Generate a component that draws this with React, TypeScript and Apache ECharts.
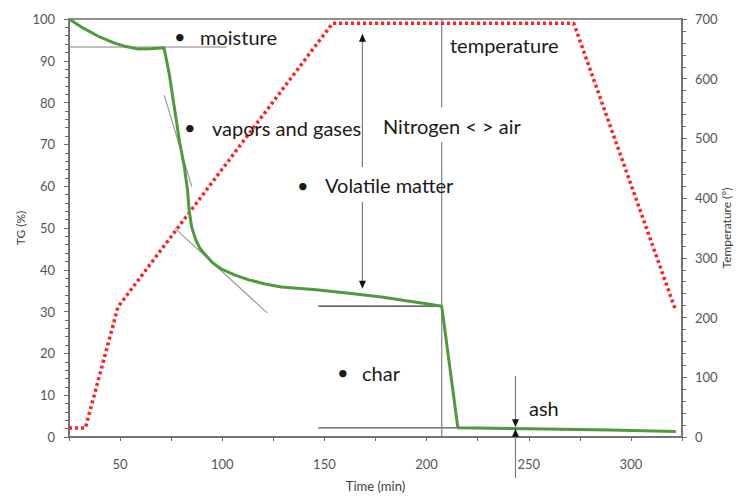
import React, { useEffect, useRef } from "react";
import * as echarts from "echarts";

// ---- data (time in min, TG in %, temperature in °) ----
const tgCurve: [number, number][] = [
  [25, 100], [32, 97.8], [40, 95.7], [47, 94.3], [53, 93.4], [59, 92.8], [65, 92.9], [71.5, 93.1],
  [74, 87], [76.5, 79], [79, 71], [81.4, 64.7], [83, 59.1], [83.8, 54.3], [85, 50.3], [87.1, 47.1],
  [89, 45.2], [91.2, 43.9], [95, 41.8], [99.4, 40.2], [106, 38.8], [113, 37.6], [121, 36.6],
  [129, 35.9], [146, 35.2], [162, 34.4], [178, 33.5], [190, 32.6], [200, 31.9], [207.4, 31.3],
  [215.3, 2.2], [250, 2.0], [290, 1.7], [322, 1.3],
];
const temperatureCurve: [number, number][] = [
  [25, 15], [33, 15], [49, 218], [154, 693], [272, 693], [322, 211],
];

const guideLines: { pts: [number, number][]; color: string }[] = [
  { pts: [[25, 93.3], [102, 93.3]], color: "#808080" },
  { pts: [[71.6, 81.8], [85.1, 59.9]], color: "#9a9a9a" },
  { pts: [[76.8, 49.9], [122, 29.7]], color: "#9a9a9a" },
  { pts: [[147, 31.3], [207.4, 31.3]], color: "#333333" },
  { pts: [[147, 2.2], [215.3, 2.2]], color: "#555555" },
  { pts: [[207.4, 100], [207.4, 78.9]], color: "#808080" },
  { pts: [[207.4, 70.6], [207.4, 0]], color: "#808080" },
];

const arrowLines: { from: [number, number]; to: [number, number] }[] = [
  { from: [168.6, 64.6], to: [168.6, 95.5] },
  { from: [168.6, 56.2], to: [168.6, 36.4] },
  { from: [243.5, 14.6], to: [243.5, 3.3] },
  { from: [243.5, -9.8], to: [243.5, 1.0] },
];

const FONT = 'Lato, "Open Sans", sans-serif';

export default function App() {
  const ref = useRef<HTMLDivElement>(null);
  useEffect(() => {
    if (!ref.current) return;
    const chart = echarts.init(ref.current, undefined, { renderer: "svg" });
    const axisColor = "#6b6b6b";
    const labelColor = "#555555";

    const series: any[] = [
      {
        type: "line",
        yAxisIndex: 1,
        data: temperatureCurve,
        symbol: "none",
        lineStyle: { color: "#ff1f1f", width: 3.5, type: [3, 3], cap: "butt" },
        z: 3,
      },
      {
        type: "line",
        yAxisIndex: 0,
        data: tgCurve,
        symbol: "none",
        lineStyle: { color: "#4f9a3c", width: 3 },
        z: 4,
      },
    ];
    guideLines.forEach((g) => {
      series.push({
        type: "line",
        yAxisIndex: 0,
        data: g.pts,
        symbol: "none",
        lineStyle: { color: g.color, width: 1.2 },
        z: 2,
      });
    });
    arrowLines.forEach((a) => {
      const up = a.to[1] > a.from[1];
      series.push({
        type: "line",
        yAxisIndex: 0,
        clip: false,
        data: [
          { value: a.from, symbol: "none" },
          { value: a.to, symbol: "triangle", symbolSize: [7, 8], symbolRotate: up ? 0 : 180 },
        ],
        showSymbol: true,
        lineStyle: { color: "#7a7a7a", width: 1.2 },
        itemStyle: { color: "#111111" },
        z: 5,
      });
    });

    const txt = (text: string, x: number, y: number, size = 20) => ({
      type: "text",
      x,
      y,
      style: { text, fill: "#1a1a1a", fontSize: size, fontFamily: FONT, verticalAlign: "middle", align: "left" },
      z: 10,
    });

    chart.setOption({
      animation: false,
      backgroundColor: "#ffffff",
      textStyle: { fontFamily: FONT },
      grid: {
        left: 69, right: 56, top: 19, bottom: 59,
        containLabel: false,
        outerBoundsMode: "none",
        show: true, borderColor: axisColor, borderWidth: 1.5, backgroundColor: "transparent",
      },
      xAxis: {
        type: "value",
        min: 25, max: 325, interval: 25,
        name: "Time (min)", nameLocation: "middle", nameGap: 42, nameMoveOverlap: false,
        nameTextStyle: { color: "#404040", fontSize: 13, fontFamily: FONT },
        axisLine: { show: true, lineStyle: { color: axisColor, width: 1.5 } },
        axisTick: { show: true, length: 4, lineStyle: { color: axisColor } },
        axisLabel: {
          color: labelColor, fontSize: 13, fontFamily: FONT, margin: 20,
          formatter: (v: number) => (v % 50 === 0 && v < 325 ? String(v) : ""),
        },
        splitLine: { show: false },
      },
      yAxis: [
        {
          type: "value", min: 0, max: 100, interval: 10,
          name: "TG (%)", nameLocation: "middle", nameGap: 43, nameRotate: 90, nameMoveOverlap: false,
          nameTextStyle: { color: "#404040", fontSize: 12, fontFamily: FONT },
          axisLine: { show: true, lineStyle: { color: axisColor, width: 1.5 } },
          axisTick: { show: true, length: 5, lineStyle: { color: axisColor } },
          minorTick: { show: true, splitNumber: 5, length: 4, lineStyle: { color: axisColor } },
          axisLabel: { color: labelColor, fontSize: 13, fontFamily: FONT, margin: 14 },
          splitLine: { show: false },
        },
        {
          type: "value", min: 0, max: 700, interval: 100, position: "right",
          name: "Temperature (°)", nameLocation: "middle", nameGap: 38, nameRotate: 90, nameMoveOverlap: false,
          nameTextStyle: { color: "#404040", fontSize: 12, fontFamily: FONT },
          axisLine: { show: true, lineStyle: { color: axisColor, width: 1.5 } },
          axisTick: { show: true, length: 5, lineStyle: { color: axisColor } },
          minorTick: { show: true, splitNumber: 5, length: 4, lineStyle: { color: axisColor } },
          axisLabel: { color: labelColor, fontSize: 13, fontFamily: FONT, margin: 13 },
          splitLine: { show: false },
        },
      ],
      graphic: [
        txt("•", 174, 36),
        txt("moisture", 200, 37),
        txt("•", 184, 127),
        txt("vapors and gases", 212, 128),
        txt("•", 297, 185),
        txt("Volatile matter", 325, 185),
        txt("Nitrogen < > air", 383, 126),
        txt("temperature", 450, 45),
        txt("•", 337, 372),
        txt("char", 362, 373),
        txt("ash", 529, 408),
      ],
      series,
    });
    return () => chart.dispose();
  }, []);
  return (
    <div
      ref={ref}
      style={{ position: "fixed", left: 0, top: 0, width: 738, height: 496, background: "#fff" }}
    />
  );
}
